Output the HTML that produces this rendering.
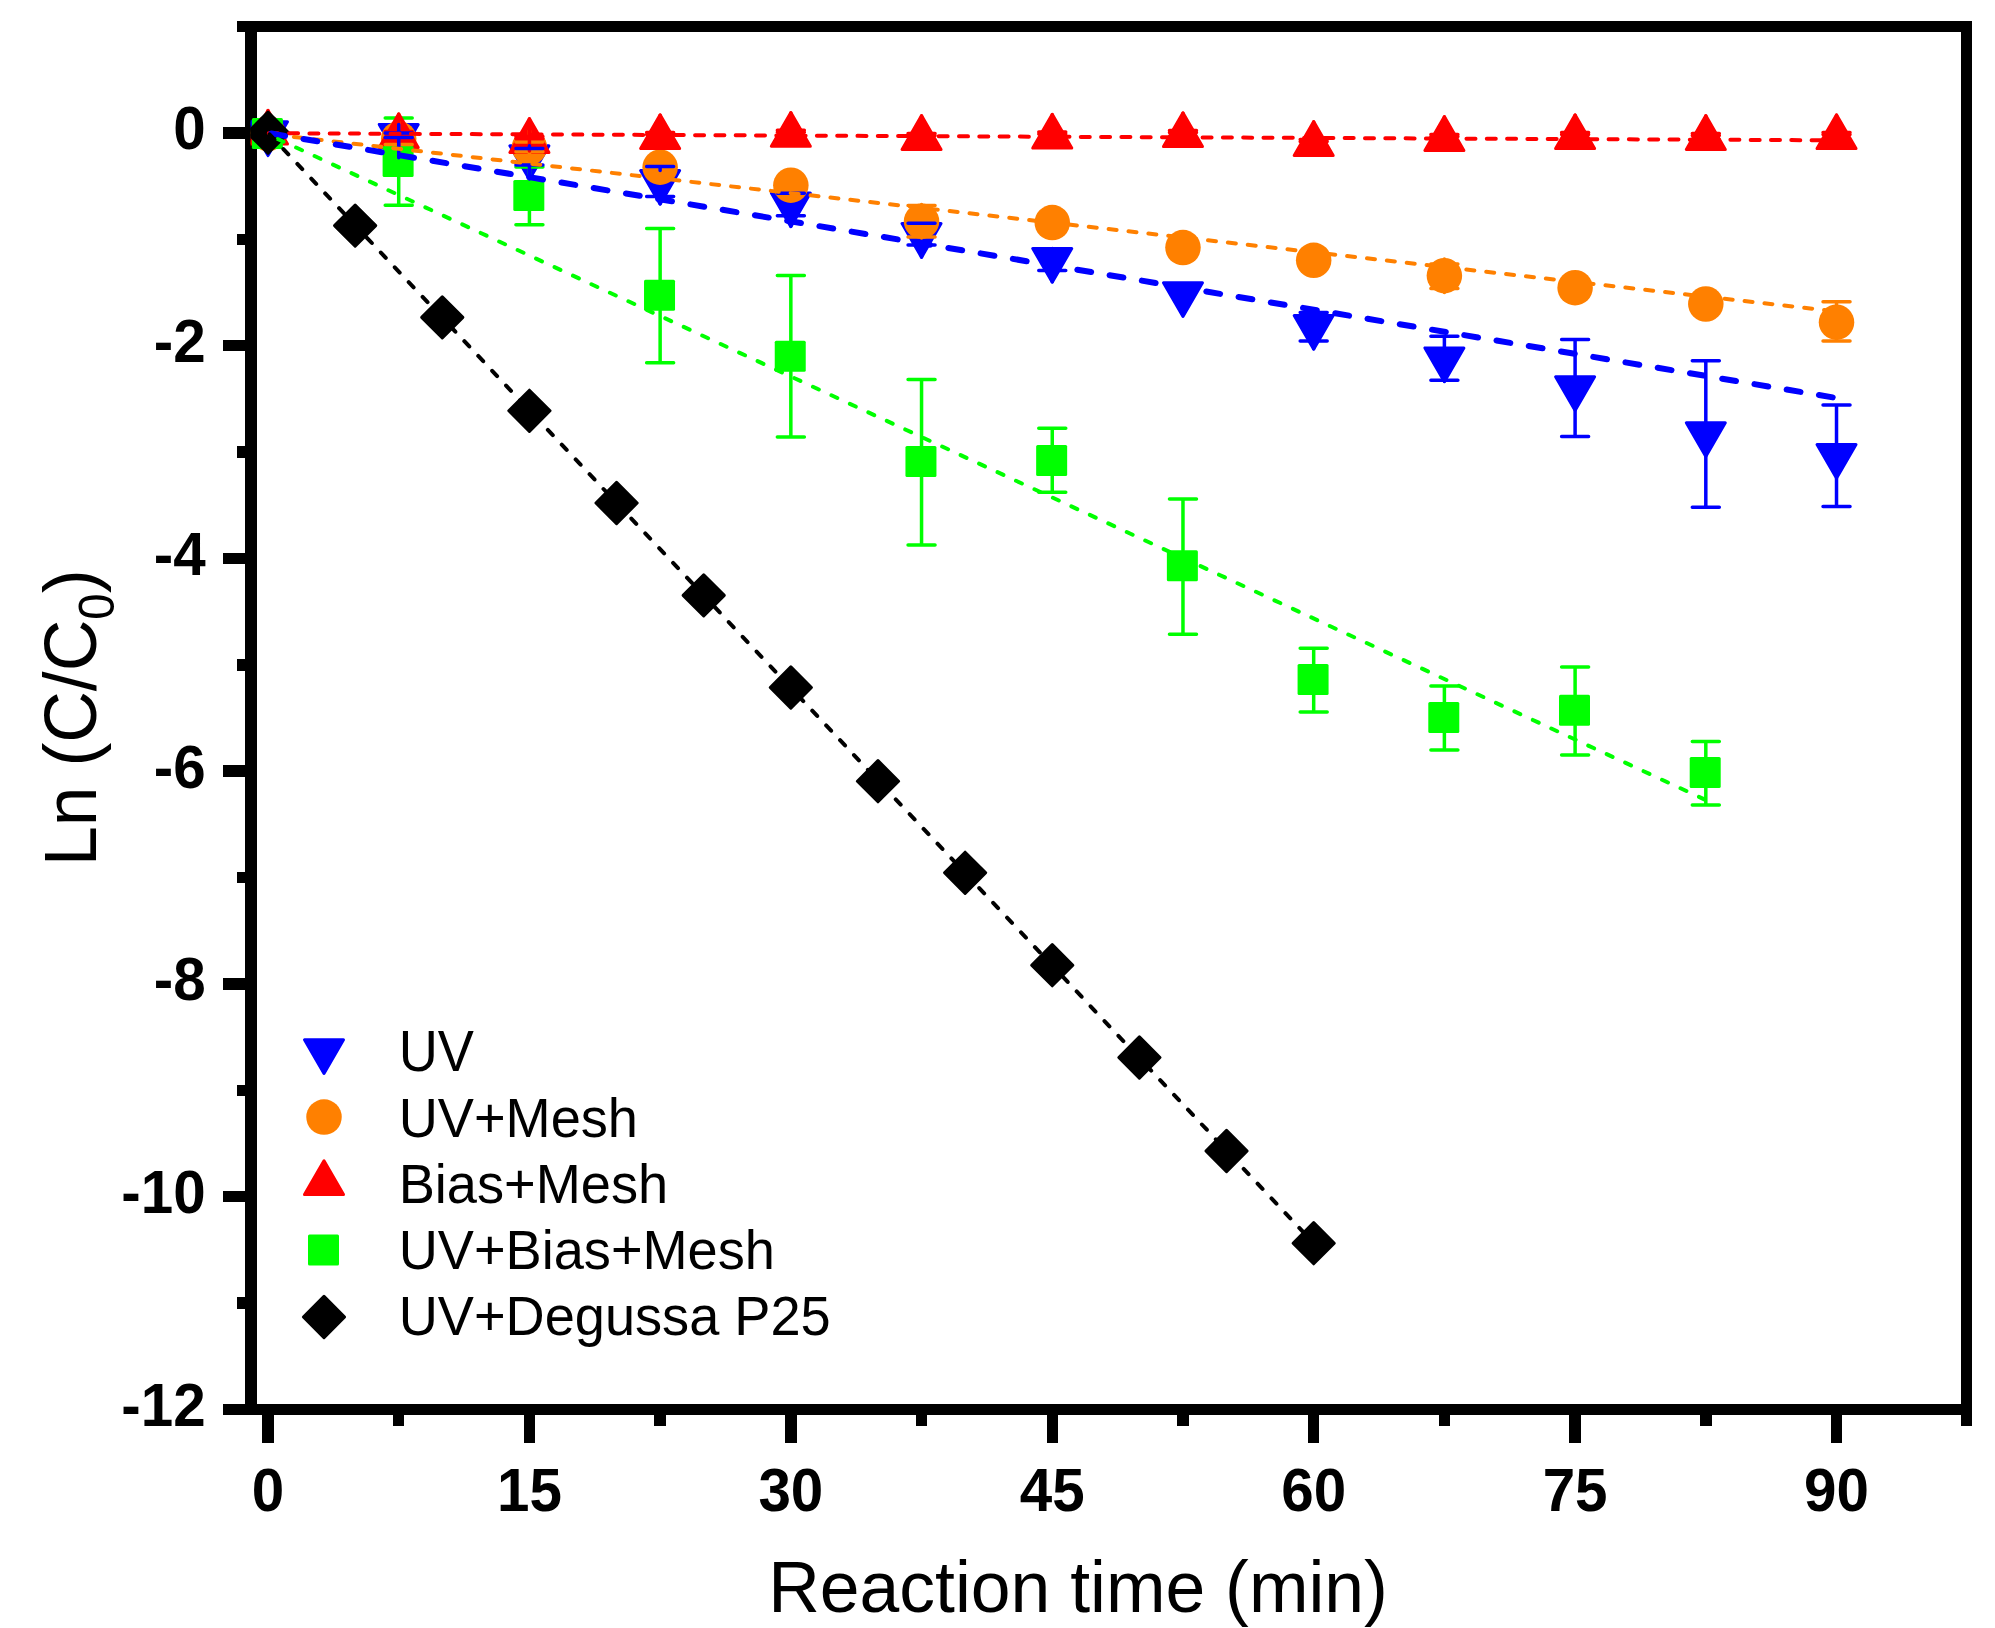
<!DOCTYPE html>
<html lang="en"><head><meta charset="utf-8"><title>Ln (C/C0) vs Reaction time (min)</title>
<style>html,body{margin:0;padding:0;background:#fff}body{width:1995px;height:1628px;overflow:hidden}svg{display:block}text{font-family:"Liberation Sans",Arial,Helvetica,sans-serif;fill:#000}.tk{font-weight:bold;font-size:58.33px}.ti{font-size:71.5px}.lg{font-size:54.17px}</style>
</head><body>
<svg width="1995" height="1628" viewBox="0 0 1995 1628">
<rect width="1995" height="1628" fill="#fff"/>
<g id="axes" fill="#000" shape-rendering="crispEdges">
<rect x="237" y="21" width="1735" height="11"/>
<rect x="223" y="1404" width="1749" height="11"/>
<rect x="245" y="21" width="12" height="1394"/>
<rect x="1961" y="21" width="11" height="1405"/>
<rect x="223" y="127.15" width="23" height="11.5"/>
<rect x="223" y="339.91" width="23" height="11.5"/>
<rect x="223" y="552.67" width="23" height="11.5"/>
<rect x="223" y="765.43" width="23" height="11.5"/>
<rect x="223" y="978.19" width="23" height="11.5"/>
<rect x="223" y="1190.95" width="23" height="11.5"/>
<rect x="237" y="233.53" width="9" height="11.5"/>
<rect x="237" y="446.29" width="9" height="11.5"/>
<rect x="237" y="659.05" width="9" height="11.5"/>
<rect x="237" y="871.81" width="9" height="11.5"/>
<rect x="237" y="1084.57" width="9" height="11.5"/>
<rect x="237" y="1297.33" width="9" height="11.5"/>
<rect x="262.25" y="1414" width="11.5" height="29"/>
<rect x="523.67" y="1414" width="11.5" height="29"/>
<rect x="785.09" y="1414" width="11.5" height="29"/>
<rect x="1046.51" y="1414" width="11.5" height="29"/>
<rect x="1307.93" y="1414" width="11.5" height="29"/>
<rect x="1569.35" y="1414" width="11.5" height="29"/>
<rect x="1830.77" y="1414" width="11.5" height="29"/>
<rect x="392.96" y="1414" width="11.5" height="12"/>
<rect x="654.38" y="1414" width="11.5" height="12"/>
<rect x="915.8" y="1414" width="11.5" height="12"/>
<rect x="1177.22" y="1414" width="11.5" height="12"/>
<rect x="1438.64" y="1414" width="11.5" height="12"/>
<rect x="1700.06" y="1414" width="11.5" height="12"/>
</g>
<defs><clipPath id="pa"><rect x="250.6" y="26.5" width="1716.5" height="1383"/></clipPath></defs>
<g clip-path="url(#pa)">
<g id="symbols">
<path d="M248.5 121.8L287.5 121.8L268 155.6Z" fill="#0000ff" stroke="#0000ff" stroke-width="3" stroke-linejoin="round"/>
<path d="M379.21 124.4L418.21 124.4L398.71 158.2Z" fill="#0000ff" stroke="#0000ff" stroke-width="3" stroke-linejoin="round"/>
<path d="M509.92 145.8L548.92 145.8L529.42 179.6Z" fill="#0000ff" stroke="#0000ff" stroke-width="3" stroke-linejoin="round"/>
<path d="M640.63 170.5L679.63 170.5L660.13 204.3Z" fill="#0000ff" stroke="#0000ff" stroke-width="3" stroke-linejoin="round"/>
<path d="M771.34 193L810.34 193L790.84 226.8Z" fill="#0000ff" stroke="#0000ff" stroke-width="3" stroke-linejoin="round"/>
<path d="M902.05 223.6L941.05 223.6L921.55 257.4Z" fill="#0000ff" stroke="#0000ff" stroke-width="3" stroke-linejoin="round"/>
<path d="M1032.76 248.5L1071.76 248.5L1052.26 282.3Z" fill="#0000ff" stroke="#0000ff" stroke-width="3" stroke-linejoin="round"/>
<path d="M1163.47 282.7L1202.47 282.7L1182.97 316.5Z" fill="#0000ff" stroke="#0000ff" stroke-width="3" stroke-linejoin="round"/>
<path d="M1294.18 315.5L1333.18 315.5L1313.68 349.3Z" fill="#0000ff" stroke="#0000ff" stroke-width="3" stroke-linejoin="round"/>
<path d="M1424.89 347.9L1463.89 347.9L1444.39 381.7Z" fill="#0000ff" stroke="#0000ff" stroke-width="3" stroke-linejoin="round"/>
<path d="M1555.6 376.8L1594.6 376.8L1575.1 410.6Z" fill="#0000ff" stroke="#0000ff" stroke-width="3" stroke-linejoin="round"/>
<path d="M1686.31 422.7L1725.31 422.7L1705.81 456.5Z" fill="#0000ff" stroke="#0000ff" stroke-width="3" stroke-linejoin="round"/>
<path d="M1817.02 444.5L1856.02 444.5L1836.52 478.3Z" fill="#0000ff" stroke="#0000ff" stroke-width="3" stroke-linejoin="round"/>
<circle cx="268" cy="133.5" r="17.75" fill="#ff8000"/>
<circle cx="398.71" cy="138.8" r="17.75" fill="#ff8000"/>
<circle cx="529.42" cy="147.3" r="17.75" fill="#ff8000"/>
<circle cx="660.13" cy="167.2" r="17.75" fill="#ff8000"/>
<circle cx="790.84" cy="185.2" r="17.75" fill="#ff8000"/>
<circle cx="921.55" cy="221.2" r="17.75" fill="#ff8000"/>
<circle cx="1052.26" cy="222.6" r="17.75" fill="#ff8000"/>
<circle cx="1182.97" cy="247.6" r="17.75" fill="#ff8000"/>
<circle cx="1313.68" cy="260.3" r="17.75" fill="#ff8000"/>
<circle cx="1444.39" cy="275.7" r="17.75" fill="#ff8000"/>
<circle cx="1575.1" cy="287.7" r="17.75" fill="#ff8000"/>
<circle cx="1705.81" cy="304" r="17.75" fill="#ff8000"/>
<circle cx="1836.52" cy="322.2" r="17.75" fill="#ff8000"/>

<path d="M398.71 118V146.1M398.71 177.1V205.3M385.21 118H412.21M385.21 205.3H412.21" stroke="#00ff00" stroke-width="3.5" stroke-linecap="round" fill="none"/>
<path d="M529.42 167V179.9M529.42 210.9V224.8M515.92 167H542.92M515.92 224.8H542.92" stroke="#00ff00" stroke-width="3.5" stroke-linecap="round" fill="none"/>
<path d="M660.13 228.6V279.7M660.13 310.7V362.7M646.63 228.6H673.63M646.63 362.7H673.63" stroke="#00ff00" stroke-width="3.5" stroke-linecap="round" fill="none"/>
<path d="M790.84 275.4V340.8M790.84 371.8V437.1M777.34 275.4H804.34M777.34 437.1H804.34" stroke="#00ff00" stroke-width="3.5" stroke-linecap="round" fill="none"/>
<path d="M921.55 379.4V445.9M921.55 476.9V545M908.05 379.4H935.05M908.05 545H935.05" stroke="#00ff00" stroke-width="3.5" stroke-linecap="round" fill="none"/>
<path d="M1052.26 428.3V445M1052.26 476V492.2M1038.76 428.3H1065.76M1038.76 492.2H1065.76" stroke="#00ff00" stroke-width="3.5" stroke-linecap="round" fill="none"/>
<path d="M1182.97 499V550.2M1182.97 581.2V634.3M1169.47 499H1196.47M1169.47 634.3H1196.47" stroke="#00ff00" stroke-width="3.5" stroke-linecap="round" fill="none"/>
<path d="M1313.68 648.2V663.9M1313.68 694.9V712M1300.18 648.2H1327.18M1300.18 712H1327.18" stroke="#00ff00" stroke-width="3.5" stroke-linecap="round" fill="none"/>
<path d="M1444.39 686V701.9M1444.39 732.9V749.9M1430.89 686H1457.89M1430.89 749.9H1457.89" stroke="#00ff00" stroke-width="3.5" stroke-linecap="round" fill="none"/>
<path d="M1575.1 666.9V694.8M1575.1 725.8V754.9M1561.6 666.9H1588.6M1561.6 754.9H1588.6" stroke="#00ff00" stroke-width="3.5" stroke-linecap="round" fill="none"/>
<path d="M1705.81 741.6V757.1M1705.81 788.1V805M1692.31 741.6H1719.31M1692.31 805H1719.31" stroke="#00ff00" stroke-width="3.5" stroke-linecap="round" fill="none"/>
<path d="M248.5 144L287.5 144L268 110.2Z" fill="#ff0000" stroke="#ff0000" stroke-width="3" stroke-linejoin="round"/>
<path d="M379.21 147.5L418.21 147.5L398.71 113.7Z" fill="#ff0000" stroke="#ff0000" stroke-width="3" stroke-linejoin="round"/>
<path d="M509.92 152.4L548.92 152.4L529.42 118.6Z" fill="#ff0000" stroke="#ff0000" stroke-width="3" stroke-linejoin="round"/>
<path d="M640.63 148.5L679.63 148.5L660.13 114.7Z" fill="#ff0000" stroke="#ff0000" stroke-width="3" stroke-linejoin="round"/>
<path d="M771.34 146.3L810.34 146.3L790.84 112.5Z" fill="#ff0000" stroke="#ff0000" stroke-width="3" stroke-linejoin="round"/>
<path d="M902.05 149.4L941.05 149.4L921.55 115.6Z" fill="#ff0000" stroke="#ff0000" stroke-width="3" stroke-linejoin="round"/>
<path d="M1032.76 148.1L1071.76 148.1L1052.26 114.3Z" fill="#ff0000" stroke="#ff0000" stroke-width="3" stroke-linejoin="round"/>
<path d="M1163.47 146.6L1202.47 146.6L1182.97 112.8Z" fill="#ff0000" stroke="#ff0000" stroke-width="3" stroke-linejoin="round"/>
<path d="M1294.18 155.4L1333.18 155.4L1313.68 121.6Z" fill="#ff0000" stroke="#ff0000" stroke-width="3" stroke-linejoin="round"/>
<path d="M1424.89 150.4L1463.89 150.4L1444.39 116.6Z" fill="#ff0000" stroke="#ff0000" stroke-width="3" stroke-linejoin="round"/>
<path d="M1555.6 148.6L1594.6 148.6L1575.1 114.8Z" fill="#ff0000" stroke="#ff0000" stroke-width="3" stroke-linejoin="round"/>
<path d="M1686.31 149.4L1725.31 149.4L1705.81 115.6Z" fill="#ff0000" stroke="#ff0000" stroke-width="3" stroke-linejoin="round"/>
<path d="M1817.02 148.6L1856.02 148.6L1836.52 114.8Z" fill="#ff0000" stroke="#ff0000" stroke-width="3" stroke-linejoin="round"/>
<rect x="251.9" y="118" width="31" height="31" rx="1.5" fill="#00ff00"/>
<rect x="382.61" y="146.1" width="31" height="31" rx="1.5" fill="#00ff00"/>
<rect x="513.32" y="179.9" width="31" height="31" rx="1.5" fill="#00ff00"/>
<rect x="644.03" y="279.7" width="31" height="31" rx="1.5" fill="#00ff00"/>
<rect x="774.74" y="340.8" width="31" height="31" rx="1.5" fill="#00ff00"/>
<rect x="905.45" y="445.9" width="31" height="31" rx="1.5" fill="#00ff00"/>
<rect x="1036.16" y="445" width="31" height="31" rx="1.5" fill="#00ff00"/>
<rect x="1166.87" y="550.2" width="31" height="31" rx="1.5" fill="#00ff00"/>
<rect x="1297.58" y="663.9" width="31" height="31" rx="1.5" fill="#00ff00"/>
<rect x="1428.29" y="701.9" width="31" height="31" rx="1.5" fill="#00ff00"/>
<rect x="1559" y="694.8" width="31" height="31" rx="1.5" fill="#00ff00"/>
<rect x="1689.71" y="757.1" width="31" height="31" rx="1.5" fill="#00ff00"/>

<path d="M398.71 133V122.05M398.71 155.55V144.5M385.21 133H412.21M385.21 144.5H412.21" stroke="#ff8000" stroke-width="3.5" stroke-linecap="round" fill="none"/>
<path d="M529.42 142V130.55M529.42 164.05V151.7M515.92 142H542.92M515.92 151.7H542.92" stroke="#ff8000" stroke-width="3.5" stroke-linecap="round" fill="none"/>


<path d="M921.55 205.5V204.45M921.55 237.95V237.1M908.05 205.5H935.05M908.05 237.1H935.05" stroke="#ff8000" stroke-width="3.5" stroke-linecap="round" fill="none"/>



<path d="M1444.39 264V258.95M1444.39 292.45V288.5M1430.89 264H1457.89M1430.89 288.5H1457.89" stroke="#ff8000" stroke-width="3.5" stroke-linecap="round" fill="none"/>


<path d="M1836.52 301.8V305.45M1836.52 338.95V341.1M1823.02 301.8H1850.02M1823.02 341.1H1850.02" stroke="#ff8000" stroke-width="3.5" stroke-linecap="round" fill="none"/>
<path d="M268 128V110.7M268 142.5V130M254.5 128H281.5M254.5 130H281.5" stroke="#ff0000" stroke-width="3.5" stroke-linecap="round" fill="none"/>
<path d="M398.71 131.5V114.2M398.71 146V133.5M385.21 131.5H412.21M385.21 133.5H412.21" stroke="#ff0000" stroke-width="3.5" stroke-linecap="round" fill="none"/>
<path d="M529.42 136.4V119.1M529.42 150.9V138.4M515.92 136.4H542.92M515.92 138.4H542.92" stroke="#ff0000" stroke-width="3.5" stroke-linecap="round" fill="none"/>
<path d="M660.13 132.5V115.2M660.13 147V134.5M646.63 132.5H673.63M646.63 134.5H673.63" stroke="#ff0000" stroke-width="3.5" stroke-linecap="round" fill="none"/>
<path d="M790.84 130.3V113M790.84 144.8V132.3M777.34 130.3H804.34M777.34 132.3H804.34" stroke="#ff0000" stroke-width="3.5" stroke-linecap="round" fill="none"/>
<path d="M921.55 133.4V116.1M921.55 147.9V135.4M908.05 133.4H935.05M908.05 135.4H935.05" stroke="#ff0000" stroke-width="3.5" stroke-linecap="round" fill="none"/>
<path d="M1052.26 132.1V114.8M1052.26 146.6V134.1M1038.76 132.1H1065.76M1038.76 134.1H1065.76" stroke="#ff0000" stroke-width="3.5" stroke-linecap="round" fill="none"/>
<path d="M1182.97 130.6V113.3M1182.97 145.1V132.6M1169.47 130.6H1196.47M1169.47 132.6H1196.47" stroke="#ff0000" stroke-width="3.5" stroke-linecap="round" fill="none"/>
<path d="M1313.68 139.4V122.1M1313.68 153.9V141.4M1300.18 139.4H1327.18M1300.18 141.4H1327.18" stroke="#ff0000" stroke-width="3.5" stroke-linecap="round" fill="none"/>
<path d="M1444.39 134.4V117.1M1444.39 148.9V136.4M1430.89 134.4H1457.89M1430.89 136.4H1457.89" stroke="#ff0000" stroke-width="3.5" stroke-linecap="round" fill="none"/>
<path d="M1575.1 132.6V115.3M1575.1 147.1V134.6M1561.6 132.6H1588.6M1561.6 134.6H1588.6" stroke="#ff0000" stroke-width="3.5" stroke-linecap="round" fill="none"/>
<path d="M1705.81 133.4V116.1M1705.81 147.9V135.4M1692.31 133.4H1719.31M1692.31 135.4H1719.31" stroke="#ff0000" stroke-width="3.5" stroke-linecap="round" fill="none"/>
<path d="M1836.52 132.6V115.3M1836.52 147.1V134.6M1823.02 132.6H1850.02M1823.02 134.6H1850.02" stroke="#ff0000" stroke-width="3.5" stroke-linecap="round" fill="none"/>

<path d="M398.71 133V124.4M398.71 157.7V137.6M385.21 133H412.21M385.21 137.6H412.21" stroke="#0000ff" stroke-width="3.5" stroke-linecap="round" fill="none"/>
<path d="M529.42 148.5V145.8M529.42 179.1V165M515.92 148.5H542.92M515.92 165H542.92" stroke="#0000ff" stroke-width="3.5" stroke-linecap="round" fill="none"/>
<path d="M660.13 166.5V170.5M660.13 203.8V196.5M646.63 166.5H673.63M646.63 196.5H673.63" stroke="#0000ff" stroke-width="3.5" stroke-linecap="round" fill="none"/>
<path d="M790.84 226.3V215.8M777.34 193.2H804.34M777.34 215.8H804.34" stroke="#0000ff" stroke-width="3.5" stroke-linecap="round" fill="none"/>
<path d="M921.55 256.9V244.9M908.05 223.3H935.05M908.05 244.9H935.05" stroke="#0000ff" stroke-width="3.5" stroke-linecap="round" fill="none"/>
<path d="M1052.26 255V248.5M1052.26 281.8V270.4M1038.76 255H1065.76M1038.76 270.4H1065.76" stroke="#0000ff" stroke-width="3.5" stroke-linecap="round" fill="none"/>

<path d="M1313.68 312.5V315.5M1313.68 348.8V340.9M1300.18 312.5H1327.18M1300.18 340.9H1327.18" stroke="#0000ff" stroke-width="3.5" stroke-linecap="round" fill="none"/>
<path d="M1444.39 336.3V347.9M1444.39 381.2V380.2M1430.89 336.3H1457.89M1430.89 380.2H1457.89" stroke="#0000ff" stroke-width="3.5" stroke-linecap="round" fill="none"/>
<path d="M1575.1 339.6V376.8M1575.1 410.1V436.6M1561.6 339.6H1588.6M1561.6 436.6H1588.6" stroke="#0000ff" stroke-width="3.5" stroke-linecap="round" fill="none"/>
<path d="M1705.81 360.7V422.7M1705.81 456V507.3M1692.31 360.7H1719.31M1692.31 507.3H1719.31" stroke="#0000ff" stroke-width="3.5" stroke-linecap="round" fill="none"/>
<path d="M1836.52 405V444.5M1836.52 477.8V506.5M1823.02 405H1850.02M1823.02 506.5H1850.02" stroke="#0000ff" stroke-width="3.5" stroke-linecap="round" fill="none"/>
</g>
<g id="p25">
<path d="M268 112.1L288.6 132.7L268 153.3L247.4 132.7Z" fill="#000000" stroke="#000000" stroke-width="3" stroke-linejoin="round"/>
<path d="M355.14 205L375.74 225.6L355.14 246.2L334.54 225.6Z" fill="#000000" stroke="#000000" stroke-width="3" stroke-linejoin="round"/>
<path d="M442.28 296.8L462.88 317.4L442.28 338L421.68 317.4Z" fill="#000000" stroke="#000000" stroke-width="3" stroke-linejoin="round"/>
<path d="M529.42 390.2L550.02 410.8L529.42 431.4L508.82 410.8Z" fill="#000000" stroke="#000000" stroke-width="3" stroke-linejoin="round"/>
<path d="M616.56 482.4L637.16 503L616.56 523.6L595.96 503Z" fill="#000000" stroke="#000000" stroke-width="3" stroke-linejoin="round"/>
<path d="M703.7 574.8L724.3 595.4L703.7 616L683.1 595.4Z" fill="#000000" stroke="#000000" stroke-width="3" stroke-linejoin="round"/>
<path d="M790.84 666.9L811.44 687.5L790.84 708.1L770.24 687.5Z" fill="#000000" stroke="#000000" stroke-width="3" stroke-linejoin="round"/>
<path d="M877.98 760.6L898.58 781.2L877.98 801.8L857.38 781.2Z" fill="#000000" stroke="#000000" stroke-width="3" stroke-linejoin="round"/>
<path d="M965.12 852.2L985.72 872.8L965.12 893.4L944.52 872.8Z" fill="#000000" stroke="#000000" stroke-width="3" stroke-linejoin="round"/>
<path d="M1052.26 944.6L1072.86 965.2L1052.26 985.8L1031.66 965.2Z" fill="#000000" stroke="#000000" stroke-width="3" stroke-linejoin="round"/>
<path d="M1139.4 1036.9L1160 1057.5L1139.4 1078.1L1118.8 1057.5Z" fill="#000000" stroke="#000000" stroke-width="3" stroke-linejoin="round"/>
<path d="M1226.54 1130.4L1247.14 1151L1226.54 1171.6L1205.94 1151Z" fill="#000000" stroke="#000000" stroke-width="3" stroke-linejoin="round"/>
<path d="M1313.68 1222.6L1334.28 1243.2L1313.68 1263.8L1293.08 1243.2Z" fill="#000000" stroke="#000000" stroke-width="3" stroke-linejoin="round"/>
</g>
<g id="fits" fill="none" stroke-linecap="round">
<path d="M268 133.2L1836.52 140.3" stroke="#ff0000" stroke-width="4" stroke-dasharray="9 11.3" stroke-dashoffset="19.5"/>
<path d="M268 134L1836.52 311.4" stroke="#ff8000" stroke-width="4" stroke-dasharray="8 12" stroke-dashoffset="14"/>
<path d="M268 133L1836.52 398" stroke="#0000ff" stroke-width="6" stroke-dasharray="14 18.7" stroke-dashoffset="29.4"/>
<path d="M268 134.5L1705.81 800" stroke="#00ff00" stroke-width="4" stroke-dasharray="6.5 13.84" stroke-dashoffset="9.7"/>
<path d="M268 132.7L1313.68 1243.2" stroke="#000000" stroke-width="4" stroke-dasharray="7.2 13.1" stroke-dashoffset="18.1"/>
</g>
</g>
<g class="tk" text-anchor="end">
<text transform="translate(205.6 149.3) scale(1 1.042)">0</text>
<text transform="translate(205.6 362.06) scale(1 1.042)">-2</text>
<text transform="translate(205.6 574.82) scale(1 1.042)">-4</text>
<text transform="translate(205.6 787.58) scale(1 1.042)">-6</text>
<text transform="translate(205.6 1000.34) scale(1 1.042)">-8</text>
<text transform="translate(205.6 1213.1) scale(1 1.042)">-10</text>
<text transform="translate(205.6 1425.86) scale(1 1.042)">-12</text>
</g>
<g class="tk" text-anchor="middle">
<text transform="translate(268 1511.3) scale(1 1.042)">0</text>
<text transform="translate(529.42 1511.3) scale(1 1.042)">15</text>
<text transform="translate(790.84 1511.3) scale(1 1.042)">30</text>
<text transform="translate(1052.26 1511.3) scale(1 1.042)">45</text>
<text transform="translate(1313.68 1511.3) scale(1 1.042)">60</text>
<text transform="translate(1575.1 1511.3) scale(1 1.042)">75</text>
<text transform="translate(1836.52 1511.3) scale(1 1.042)">90</text>
</g>
<text class="ti" transform="translate(768.2 1612) scale(1 1.004)">Reaction time (min)</text>
<text class="ti" transform="translate(96.1 866) rotate(-90) scale(1 1.032)">Ln (C/C<tspan font-size="47.6px" dy="17.8">0</tspan><tspan dy="-17.8">)</tspan></text>
<g id="legend">
<path d="M304.5 1039.7L343.5 1039.7L324 1073.5Z" fill="#0000ff" stroke="#0000ff" stroke-width="3" stroke-linejoin="round"/>
<circle cx="324" cy="1117.1" r="17.75" fill="#ff8000"/>
<path d="M304.5 1194.6L343.5 1194.6L324 1160.8Z" fill="#ff0000" stroke="#ff0000" stroke-width="3" stroke-linejoin="round"/>
<rect x="308" y="1234.5" width="31" height="31" rx="1.5" fill="#00ff00"/>
<path d="M324 1296.4L344.6 1317L324 1337.6L303.4 1317Z" fill="#000000" stroke="#000000" stroke-width="3" stroke-linejoin="round"/>
<text class="lg" transform="translate(398.7 1070.5) scale(1 1.042)">UV</text>
<text class="lg" transform="translate(398.7 1136.6) scale(1 1.022)">UV+Mesh</text>
<text class="lg" transform="translate(398.7 1202.7) scale(1 1.022)">Bias+Mesh</text>
<text class="lg" transform="translate(398.7 1268.8) scale(1 1.022)">UV+Bias+Mesh</text>
<text class="lg" transform="translate(398.7 1334.9) scale(1 1.022)">UV+Degussa P25</text>
</g>
</svg>
</body></html>
